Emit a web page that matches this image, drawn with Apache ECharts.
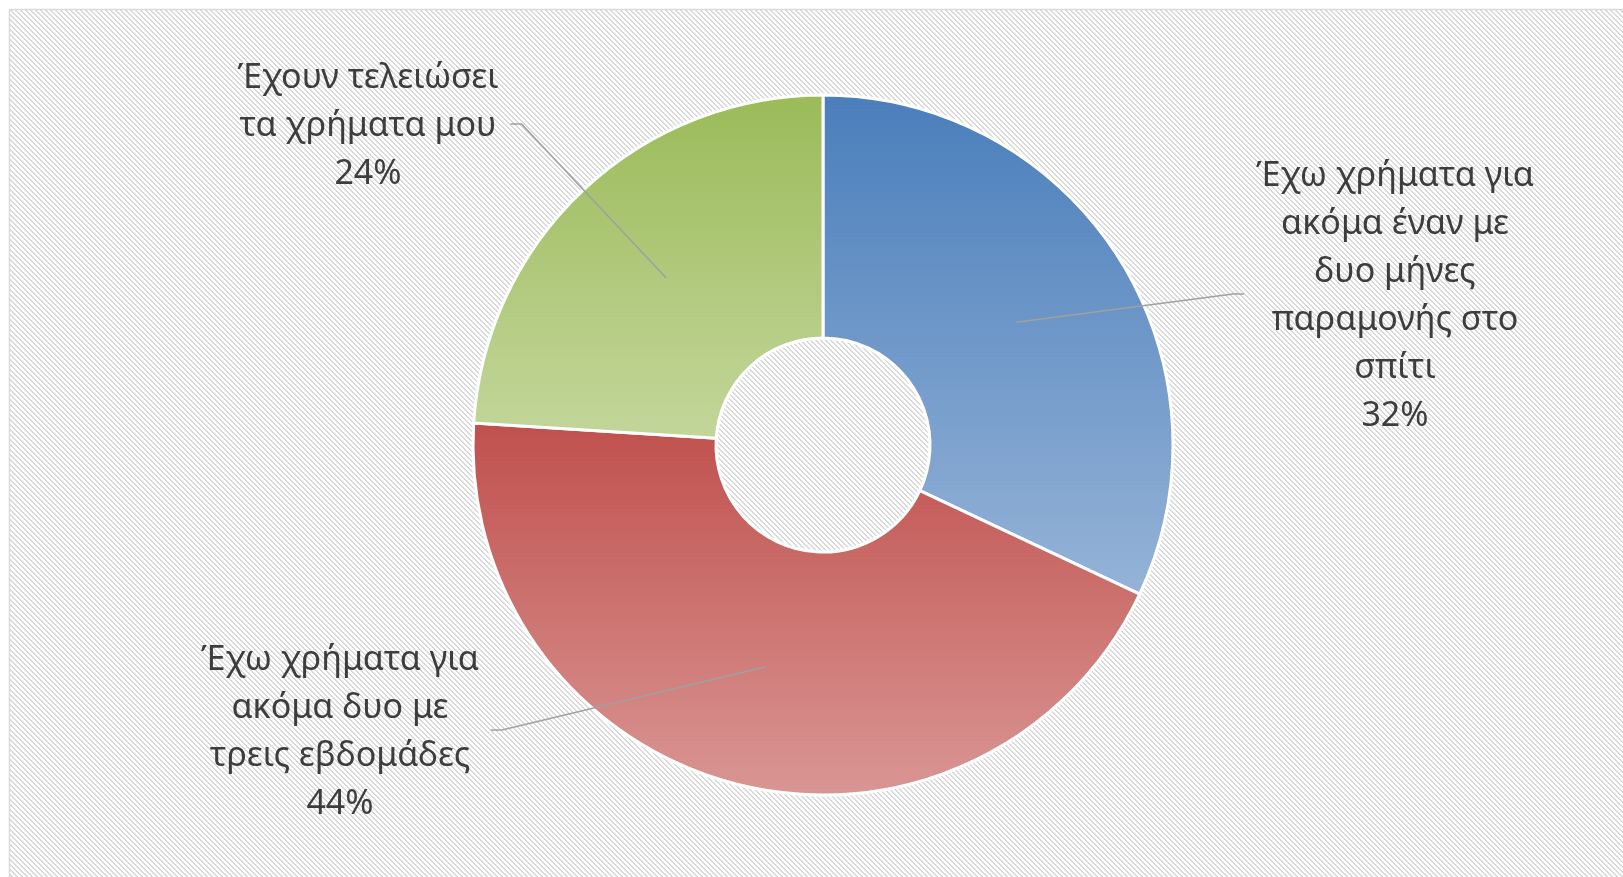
<!DOCTYPE html>
<html>
<head>
<meta charset="utf-8">
<script src="https://cdn.jsdelivr.net/npm/echarts@6/dist/echarts.min.js"></script>
<style>
  html, body { margin: 0; padding: 0; background: #ffffff; }
  #chart { width: 1623px; height: 877px; }
</style>
</head>
<body>
<div id="chart"></div>
<script>
// ---- Data ----
var categories = [
  'Έχω χρήματα για\nακόμα έναν με\nδυο μήνες\nπαραμονής στο\nσπίτι',
  'Έχω χρήματα για\nακόμα δυο με\nτρεις εβδομάδες',
  'Έχουν τελειώσει\nτα χρήματα μου'
];
var shares = [32, 44, 24];

// ---- Styling / layout ----
var gradients = [
  ['#4a7ebb', '#95b3d7'],
  ['#c0504d', '#d99694'],
  ['#9bbb59', '#c3d69b']
];
var labelCenters = [[1395, 296], [340, 732], [368, 126]];
var pieCenter = [823, 445];

function stripeCanvas() {
  var c = document.createElement('canvas');
  var p = 5;
  c.width = p; c.height = p;
  var ctx = c.getContext('2d');
  ctx.fillStyle = '#ffffff';
  ctx.fillRect(0, 0, p, p);
  ctx.fillStyle = '#d9d9d9';
  for (var y = 0; y < p; y++) {
    for (var x = 0; x < p; x++) {
      var d = ((x - y) % p + p) % p;
      if (d < 2) ctx.fillRect(x, y, 1, 1);
    }
  }
  return c;
}

var chart = echarts.init(document.getElementById('chart'));

var pieData = categories.map(function (name, i) {
  return {
    name: name,
    value: shares[i],
    itemStyle: {
      color: new echarts.graphic.LinearGradient(0, 0, 0, 1, [
        { offset: 0, color: gradients[i][0] },
        { offset: 1, color: gradients[i][1] }
      ])
    }
  };
});

var labelData = categories.map(function (name, i) {
  return { name: name, value: shares[i] };
});

var option = {
  animation: false,
  graphic: [{
    type: 'rect',
    z: -10,
    silent: true,
    shape: { x: 9.5, y: 9.5, width: 1700, height: 900 },
    style: {
      fill: { image: stripeCanvas(), repeat: 'repeat' },
      stroke: '#d9d9d9',
      lineWidth: 1.5
    }
  }],
  series: [
    {
      type: 'pie',
      z: 2,
      center: pieCenter,
      radius: [107, 350],
      startAngle: 90,
      clockwise: true,
      silent: true,
      label: { show: false },
      labelLine: { show: false },
      itemStyle: { borderColor: '#ffffff', borderWidth: 3 },
      data: pieData
    },
    {
      type: 'pie',
      z: 3,
      center: pieCenter,
      radius: [0, 229],
      startAngle: 90,
      clockwise: true,
      silent: true,
      itemStyle: { color: 'rgba(0,0,0,0)', borderWidth: 0 },
      label: {
        show: true,
        position: 'outside',
        formatter: '{b}\n{d}%',
        fontFamily: 'Noto Sans',
        fontSize: 34,
        lineHeight: 48,
        color: '#3d3d3d',
        align: 'center'
      },
      labelLine: {
        show: true,
        smooth: false,
        length: 10,
        length2: 10,
        lineStyle: { color: '#a0a0a0', width: 1.6 }
      },
      labelLayout: function (p) {
        var c = labelCenters[p.dataIndex];
        var w = p.labelRect.width;
        var start = p.labelLinePoints ? p.labelLinePoints[0] : [pieCenter[0], pieCenter[1]];
        var left = c[0] < pieCenter[0];
        var gap = 12, elbow = 11;
        var endX = left ? c[0] + w / 2 + gap : c[0] - w / 2 - gap;
        var endY = c[1] - 2;
        var midX = left ? endX + elbow : endX - elbow;
        return {
          x: c[0],
          y: c[1],
          align: 'center',
          verticalAlign: 'middle',
          labelLinePoints: [start, [midX, endY], [endX, endY]]
        };
      },
      data: labelData
    }
  ]
};

chart.setOption(option);
</script>
</body>
</html>
